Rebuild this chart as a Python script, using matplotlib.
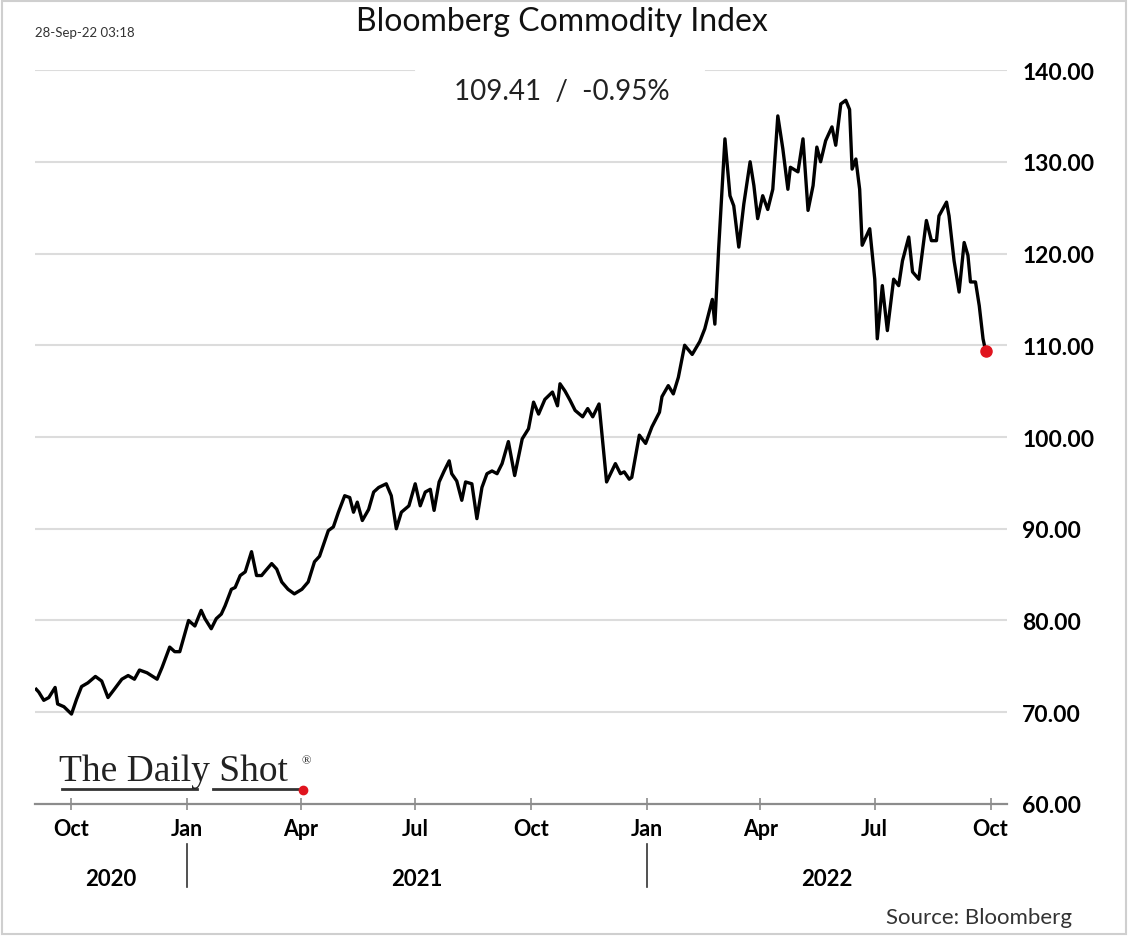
import matplotlib
matplotlib.use("agg")
from matplotlib import pyplot as plt
from matplotlib import transforms
from matplotlib.lines import Line2D
import pandas as pd

# Bloomberg Commodity Index
dates = [
    '2020-09-03', '2020-09-05', '2020-09-09', '2020-09-13', '2020-09-18', '2020-09-20', '2020-09-25',
    '2020-10-01', '2020-10-05', '2020-10-09', '2020-10-14', '2020-10-20', '2020-10-25', '2020-10-30',
    '2020-11-04', '2020-11-10', '2020-11-15', '2020-11-20', '2020-11-24', '2020-11-30', '2020-12-08',
    '2020-12-12', '2020-12-18', '2020-12-22', '2020-12-26', '2021-01-02', '2021-01-07', '2021-01-12',
    '2021-01-15', '2021-01-20', '2021-01-24', '2021-01-28', '2021-01-31', '2021-02-05', '2021-02-08',
    '2021-02-12', '2021-02-16', '2021-02-21', '2021-02-25', '2021-03-01', '2021-03-04', '2021-03-09',
    '2021-03-13', '2021-03-17', '2021-03-22', '2021-03-27', '2021-04-02', '2021-04-07', '2021-04-12',
    '2021-04-16', '2021-04-23', '2021-04-27', '2021-05-01', '2021-05-06', '2021-05-10', '2021-05-13',
    '2021-05-16', '2021-05-20', '2021-05-25', '2021-05-29', '2021-06-02', '2021-06-08', '2021-06-12',
    '2021-06-16', '2021-06-20', '2021-06-26', '2021-07-01', '2021-07-05', '2021-07-09', '2021-07-13',
    '2021-07-16', '2021-07-20', '2021-07-24', '2021-07-28', '2021-07-30', '2021-08-03', '2021-08-07',
    '2021-08-10', '2021-08-15', '2021-08-19', '2021-08-23', '2021-08-27', '2021-08-31', '2021-09-04',
    '2021-09-08', '2021-09-13', '2021-09-18', '2021-09-24', '2021-09-29', '2021-10-03', '2021-10-07',
    '2021-10-12', '2021-10-18', '2021-10-22', '2021-10-24', '2021-10-28', '2021-11-01', '2021-11-05',
    '2021-11-11', '2021-11-15', '2021-11-19', '2021-11-24', '2021-11-30', '2021-12-07', '2021-12-11',
    '2021-12-14', '2021-12-18', '2021-12-20', '2021-12-26', '2021-12-31', '2022-01-05', '2022-01-11',
    '2022-01-13', '2022-01-18', '2022-01-22', '2022-01-26', '2022-01-31', '2022-02-06', '2022-02-12',
    '2022-02-16', '2022-02-22', '2022-02-24', '2022-02-27', '2022-03-04', '2022-03-08', '2022-03-11',
    '2022-03-15', '2022-03-19', '2022-03-24', '2022-03-27', '2022-03-30', '2022-04-03', '2022-04-07',
    '2022-04-11', '2022-04-15', '2022-04-19', '2022-04-23', '2022-04-25', '2022-05-01', '2022-05-05',
    '2022-05-09', '2022-05-13', '2022-05-16', '2022-05-19', '2022-05-23', '2022-05-28', '2022-05-31',
    '2022-06-04', '2022-06-08', '2022-06-11', '2022-06-13', '2022-06-16', '2022-06-19', '2022-06-21',
    '2022-06-27', '2022-07-01', '2022-07-03', '2022-07-07', '2022-07-11', '2022-07-16', '2022-07-20',
    '2022-07-23', '2022-07-28', '2022-07-31', '2022-08-05', '2022-08-11', '2022-08-15', '2022-08-19',
    '2022-08-21', '2022-08-27', '2022-08-29', '2022-09-02', '2022-09-06', '2022-09-10', '2022-09-13',
    '2022-09-15', '2022-09-19', '2022-09-22', '2022-09-25', '2022-09-27',
]
values = [
    72.5, 72.2, 71.3, 71.6, 72.7, 70.9, 70.6,
    69.8, 71.4, 72.8, 73.2, 73.9, 73.4, 71.6,
    72.5, 73.6, 74.0, 73.6, 74.6, 74.3, 73.6,
    74.9, 77.1, 76.6, 76.6, 80.0, 79.4, 81.1,
    80.2, 79.1, 80.2, 80.7, 81.6, 83.4, 83.6,
    84.9, 85.3, 87.5, 84.9, 84.9, 85.4, 86.2,
    85.6, 84.2, 83.4, 82.9, 83.4, 84.2, 86.4,
    87.0, 89.8, 90.2, 91.8, 93.6, 93.4, 91.8,
    92.9, 90.9, 92.1, 94.0, 94.5, 94.9, 93.6,
    90.0, 91.8, 92.5, 94.9, 92.5, 94.0, 94.3,
    92.0, 95.1, 96.3, 97.4, 96.0, 95.2, 93.1,
    95.1, 94.9, 91.1, 94.5, 96.0, 96.3, 96.0,
    97.1, 99.5, 95.8, 99.8, 100.9, 103.8, 102.5,
    104.1, 104.9, 103.4, 105.8, 105.0, 104.0, 102.9,
    102.2, 103.1, 102.2, 103.6, 95.1, 97.1, 96.0,
    96.2, 95.4, 95.6, 100.2, 99.3, 101.1, 102.7,
    104.4, 105.6, 104.7, 106.5, 110.0, 109.0, 110.4,
    111.8, 115.0, 112.3, 120.5, 132.5, 126.3, 125.2,
    120.7, 125.4, 130.0, 127.4, 123.8, 126.3, 124.8,
    127.0, 135.0, 131.4, 127.0, 129.4, 128.9, 132.5,
    124.7, 127.4, 131.6, 130.0, 132.3, 133.8, 131.8,
    136.3, 136.7, 135.7, 129.2, 130.3, 127.0, 120.9,
    122.7, 117.2, 110.7, 116.5, 111.6, 117.2, 116.5,
    119.2, 121.8, 118.0, 117.2, 123.6, 121.4, 121.4,
    124.1, 125.6, 124.1, 119.2, 115.8, 121.2, 119.8,
    116.9, 116.9, 114.3, 110.7, 109.41,
]

y_ticks = [60, 70, 80, 90, 100, 110, 120, 130, 140]
x_ticks = ['2020-10-01', '2021-01-01', '2021-04-01', '2021-07-01', '2021-10-01',
           '2022-01-01', '2022-04-01', '2022-07-01', '2022-10-01']
x_tick_labels = ['Oct', 'Jan', 'Apr', 'Jul', 'Oct', 'Jan', 'Apr', 'Jul', 'Oct']
year_labels = ['2020', '2021', '2022']
year_bounds = ['2020-09-02', '2021-01-01', '2022-01-01', '2022-10-14']

FONT = 'Lato'

dt = pd.to_datetime(dates)
x_ticks = pd.to_datetime(x_ticks)
year_bounds = pd.to_datetime(year_bounds)

fig = plt.figure(figsize=(11.28, 9.37), dpi=100, facecolor='white')
ax = fig.add_axes([0.031, 0.1409, 0.8617, 0.7833])

# grid lines, the top one broken for the headline value
for y in y_ticks[1:-1]:
    ax.axhline(y, color='#dcdcdc', lw=1.5, zorder=0)
ax.axhline(140, xmin=0, xmax=0.39, color='#dcdcdc', lw=1.5, zorder=0)
ax.axhline(140, xmin=0.69, xmax=1, color='#dcdcdc', lw=1.5, zorder=0)

ax.plot(dt, values, color='black', lw=2.4, solid_joinstyle='round', zorder=3)
ax.plot(dt[-1:], values[-1:], 'o', color='#e0141e', ms=8, zorder=4)

ax.set_xlim(year_bounds[0], year_bounds[-1])
ax.set_ylim(60, 140)

for s in ['top', 'left', 'right']:
    ax.spines[s].set_visible(False)
ax.spines['bottom'].set_color('#8c8c8c')
ax.spines['bottom'].set_linewidth(1.6)

ax.yaxis.tick_right()
ax.set_yticks(y_ticks)
ax.set_yticklabels(['%.2f' % v for v in y_ticks], fontsize=16.5, fontweight='bold', family=FONT)
ax.tick_params(axis='y', length=0, pad=11)

ax.set_xticks(x_ticks)
ax.set_xticklabels(x_tick_labels, fontsize=15.5, fontweight='bold', family=FONT)
ax.tick_params(axis='x', direction='inout', length=8, width=1.2, color='#8c8c8c', pad=6)

# year labels and separators
tr = transforms.blended_transform_factory(ax.transData, ax.transAxes)
for i, yr in enumerate(year_labels):
    mid = year_bounds[i] + (year_bounds[i + 1] - year_bounds[i]) / 2
    ax.text(mid, -0.102, yr, transform=tr, ha='center', va='center',
            fontsize=16, fontweight='bold', family=FONT)
for b in year_bounds[1:-1]:
    ax.plot([b, b], [-0.054, -0.113], transform=tr, color='#333333', lw=1.2, clip_on=False)

fig.text(0.498, 0.9765, 'Bloomberg Commodity Index', ha='center', va='center',
         fontsize=23, family=FONT, color='#111111')
fig.text(0.031, 0.9648, '28-Sep-22 03:18', ha='left', va='center', fontsize=9.5,
         family=FONT, color='#333333')
fig.text(0.498, 0.9018, '109.41  /  -0.95%', ha='center', va='center',
         fontsize=20, family=FONT, color='#222222')
fig.text(0.950, 0.0203, 'Source: Bloomberg', ha='right', va='center',
         fontsize=16, family=FONT, color='#333333')

# logo
fig.text(0.052, 0.176, 'The Daily Shot', ha='left', va='center', fontsize=27,
         family='Liberation Serif', color='#222222')
fig.text(0.267, 0.188, '®', ha='left', va='center', fontsize=9,
         family='Liberation Serif', color='#222222')
fig.add_artist(Line2D([0.055, 0.175], [0.1569, 0.1569], color='#333333', lw=2))
fig.add_artist(Line2D([0.189, 0.266], [0.1569, 0.1569], color='#333333', lw=2))
fig.add_artist(Line2D([0.2686], [0.1558], marker='o', color='#e0141e', ms=6))

# thin border round the picture
fig.add_artist(plt.Rectangle((0.002, 0.002), 0.996, 0.996, transform=fig.transFigure,
                             fill=False, edgecolor='#cfcfcf', lw=1.5))

fig.savefig('out.png', dpi=100, facecolor='white')
